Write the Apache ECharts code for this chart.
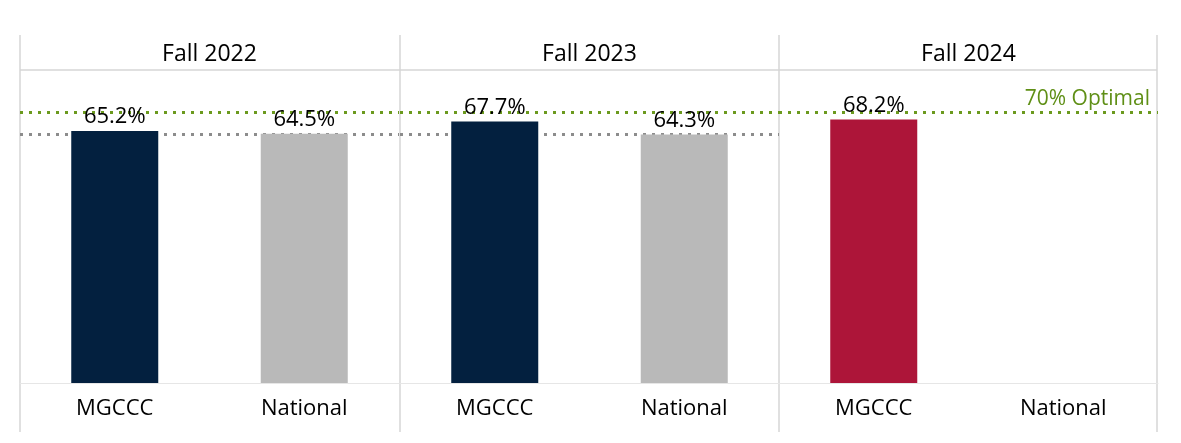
<!DOCTYPE html>
<html>
<head>
<meta charset="utf-8">
<script src="https://cdn.jsdelivr.net/npm/echarts@6/dist/echarts.min.js"></script>
<style>
  html, body { margin: 0; padding: 0; background: #fff; }
  #main { width: 1181px; height: 443px; }
</style>
</head>
<body>
<div id="main"></div>
<script>
var terms = ['Fall 2022', 'Fall 2023', 'Fall 2024'];
var groups = ['MGCCC', 'National'];
var mgccc = [65.2, 67.7, 68.2];
var national = [64.5, 64.3, null];
var optimal = 70;
var barColors = ['#03203f', '#b9b9b9'];
var latestColor = '#ad1539';

var chart = echarts.init(document.getElementById('main'));
var font = 'Open Sans';
var panelLeft = [20, 400, 779];
var panelW = 379;

var grids = [], xAxes = [], yAxes = [], series = [];
terms.forEach(function (t, i) {
  grids.push({ left: panelLeft[i], width: panelW, top: 70, bottom: 60 });
  xAxes.push({
    type: 'category', gridIndex: i, data: groups,
    axisLine: { show: true, lineStyle: { color: '#e6e6e6' } },
    axisTick: { show: false },
    axisLabel: { color: '#000', fontSize: 22, fontFamily: font, fontWeight: 500, margin: 15 }
  });
  xAxes.push({
    type: 'category', gridIndex: i, position: 'top', data: [t],
    axisLine: { show: false }, axisTick: { show: false },
    axisLabel: { color: '#000', fontSize: 23, fontFamily: font, fontWeight: 500, margin: 4 }
  });
  yAxes.push({ type: 'value', gridIndex: i, min: 0, max: 81, show: false, splitLine: { show: false } });
  var last = i === terms.length - 1;
  var vals = [mgccc[i], national[i]];
  var marks = [];
  if (national[i] != null) {
    marks.push({ yAxis: national[i], lineStyle: { color: '#8c8c8c', type: [3, 6], width: 3 }, label: { show: false } });
  }
  marks.push({
    yAxis: optimal,
    lineStyle: { color: '#6b9a1e', type: [3, 6], width: 3 },
    label: last ? { show: true, position: 'insideEndTop', formatter: '70% Optimal', color: '#5f8f16', fontSize: 21, fontFamily: font, fontWeight: 500, distance: [8, 3] } : { show: false }
  });
  series.push({
    type: 'bar', xAxisIndex: i * 2, yAxisIndex: i, barWidth: 87,
    data: vals.map(function (v, k) {
      return { value: v, itemStyle: { color: (last && k === 0) ? latestColor : barColors[k] } };
    }),
    label: {
      show: true, position: 'top', distance: 3, color: '#000', fontSize: 22, fontFamily: font,
      formatter: function (p) { return p.value == null ? '' : p.value.toFixed(1) + '%'; }
    },
    markLine: { silent: true, symbol: 'none', data: marks, z: 1 },
    z: 2
  });
});

var lines = [];
[20, 400, 779, 1157].forEach(function (x) {
  lines.push({ type: 'line', shape: { x1: x, y1: 35, x2: x, y2: 432 }, style: { stroke: '#d6d6d6', lineWidth: 1.5 } });
});
lines.push({ type: 'line', shape: { x1: 20, y1: 70, x2: 1157, y2: 70 }, style: { stroke: '#d6d6d6', lineWidth: 1.5 } });

chart.setOption({
  animation: false,
  grid: grids,
  xAxis: xAxes,
  yAxis: yAxes,
  series: series,
  graphic: lines
});
</script>
</body>
</html>
